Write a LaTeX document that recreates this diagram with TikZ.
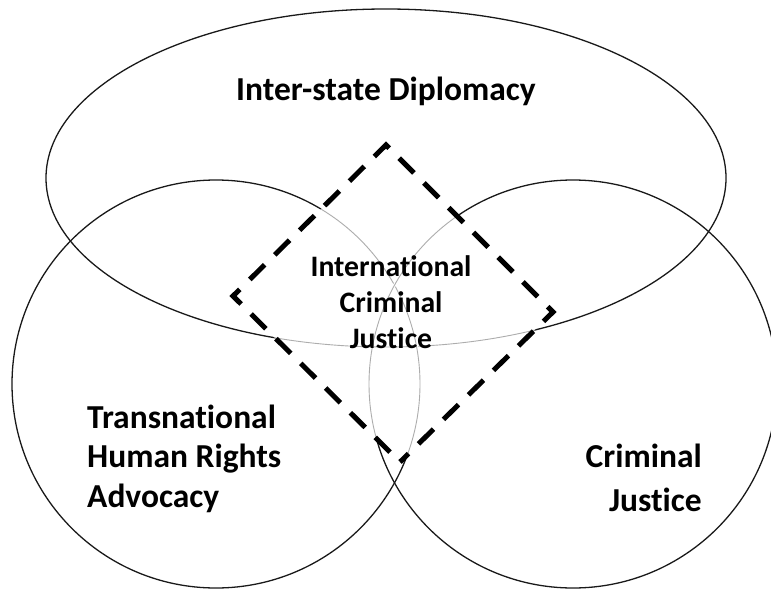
\documentclass[tikz,border=0pt]{standalone}
\usepackage{fontspec}
\setmainfont{Carlito}[Ligatures=NoCommon]
\usepackage{tikz}

\begin{document}
\begin{tikzpicture}[x=1pt, y=-1pt,
   set/.style = {draw=black!90, line width=1.3pt},
   overlap/.style = {draw=black!32, line width=0.9pt,
      preaction = {draw=white, line width=3pt}},
   scopebox/.style = {draw, line width=5pt, miter limit=4,
      dash pattern=on 21pt off 14pt, dash phase=21pt},
   title/.style = {inner sep=0pt, font=\bfseries\fontsize{33.5}{39.5}\selectfont},
   inner title/.style = {inner sep=0pt, font=\bfseries\fontsize{29.7}{36}\selectfont}]
   \useasboundingbox (0,0) rectangle (771,589);
   \clip (0,0) rectangle (771,589);
   % corners of the dashed square
   \coordinate (bottom) at (400,462);
   \coordinate (left)   at (233,296);
   \coordinate (top)    at (386,145);
   \coordinate (right)  at (553,312);
   % the three sets
   \draw[set] (386,178) ellipse [x radius=340, y radius=169];
   \foreach \cx in {216,573}
     \draw[set] (\cx,384) circle [radius=204];
   % inside the square the outlines turn grey
   \begin{scope}
     \clip (bottom) -- (left) -- (top) -- (right) -- cycle;
     \draw[overlap] (386,178) ellipse [x radius=340, y radius=169];
     \foreach \cx in {216,573}
       \draw[overlap] (\cx,384) circle [radius=204];
   \end{scope}
   \draw[scopebox] (bottom) -- (left) -- (top) -- (right) -- cycle;
   % labels (base = baseline of the last line)
   \node[title, anchor=base] (diplomacy) at (386,100) {Inter-state Diplomacy};
   \node[title, align=left, anchor=base west] (advocacy) at (87,507)
     {Transnational\\Human Rights\\Advocacy};
   \node[title, align=right, anchor=base east, font=\bfseries\fontsize{33.5}{44}\selectfont]
     (justice) at (702,511) {Criminal\\Justice};
   \node[inner title, align=center, anchor=base] (icj) at (391,348)
     {International\\Criminal\\Justice};
\end{tikzpicture}
\end{document}
